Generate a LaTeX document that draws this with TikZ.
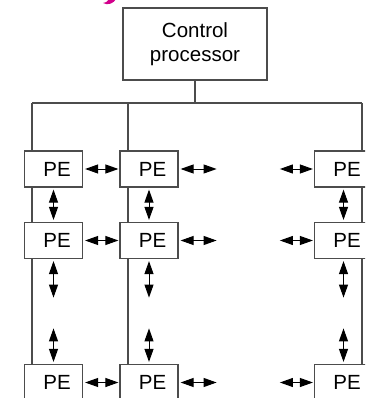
\documentclass[tikz,border=0pt]{standalone}
\usepackage{fontspec}
\setmainfont{Liberation Sans}
\usetikzlibrary{arrows.meta}
\definecolor{titlepink}{RGB}{210,0,140}

\begin{document}
\begin{tikzpicture}[x=1pt,y=-1pt,
		ln/.style={draw=black!70,line width=1.2pt},
		pe/.style={ln,fill=white,minimum width=58pt,minimum height=36pt,inner sep=0pt,font=\fontsize{20.5}{24}\selectfont},
		link/.style={{Triangle[length=13pt,width=9pt]}-{Triangle[length=13pt,width=9pt]},line width=1pt}]
		\clip (0,0) rectangle (365,398);
		% end of the title letter above
		\fill[titlepink] (103,3) .. controls (108,6) and (114,3) .. (116,-1) -- (109,-1) .. controls (107,2) .. (103,3) -- cycle;
		\node[ln,minimum width=144pt,minimum height=72pt,align=center,font=\fontsize{20.5}{24}\selectfont] (cp) at (195,44) {Control\\processor};
		\coordinate (b1) at (32,103);
		\coordinate (b2) at (128,103);
		\coordinate (b3) at (362,103);
		\foreach \r/\y in {1/169,2/240.5,3/382.5} {
			\node[pe] (pe\r1) at (53.5,\y) {\hspace*{7pt}PE};
			\node[pe] (pe\r2) at (149,\y) {\hspace*{7pt}PE};
			\node[pe] (pe\r3) at (343.5,\y) {\hspace*{7pt}PE};
		}
		\draw[ln] (cp.south) -- (cp.south |- b1);
		\draw[ln] (b1) -- (b3);
		\foreach \c in {1,2,3} {
			\draw[ln] (b\c) -- (pe1\c.north -| b\c);
			\draw[ln] (pe1\c.south -| b\c) -- (pe2\c.north -| b\c);
			\draw[ln] (pe2\c.south -| b\c) -- (pe3\c.north -| b\c);
			\draw[link,shorten <=2pt,shorten >=2pt] (pe1\c.south) -- (pe2\c.north);
			\path (pe2\c.south) ++(0,38.5) coordinate (d\c);
			\draw[link,shorten <=2pt] (pe2\c.south) -- (d\c);
			\path (pe3\c.north) ++(0,-35.5) coordinate (u\c);
			\draw[link,shorten >=2pt] (u\c) -- (pe3\c.north);
		}
		\foreach \r in {1,2,3} {
			\draw[link,shorten <=2pt,shorten >=1pt] (pe\r1.east) -- (pe\r2.west);
			\path (pe\r2.east) ++(38,0) coordinate (e\r);
			\draw[link,shorten <=2pt] (pe\r2.east) -- (e\r);
			\path (pe\r3.west) ++(-34,0) coordinate (w\r);
			\draw[link,shorten >=1pt] (w\r) -- (pe\r3.west);
		}
	\end{tikzpicture}
\end{document}
